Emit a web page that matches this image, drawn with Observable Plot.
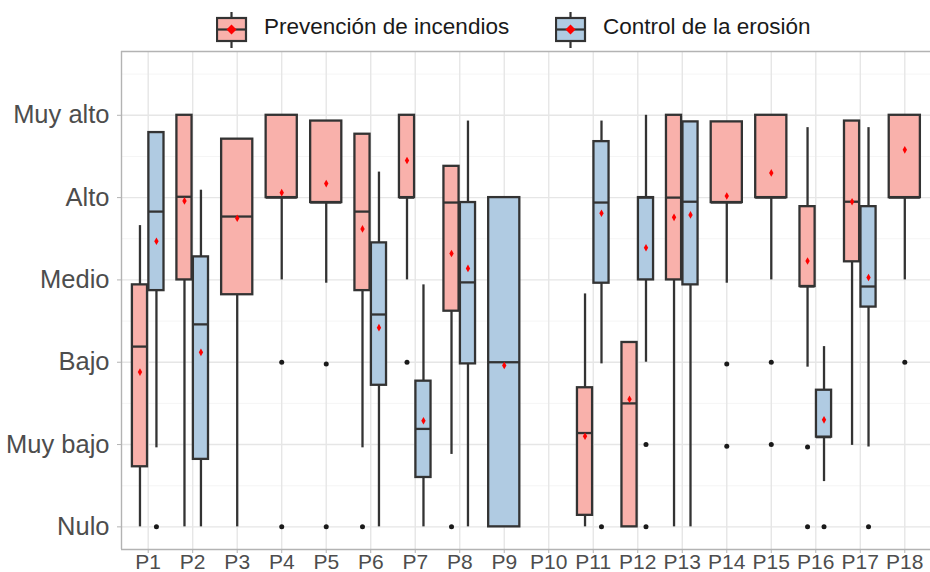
<!DOCTYPE html>
<html>
<head>
<meta charset="utf-8">
<script src="https://cdn.jsdelivr.net/npm/d3@7"></script>
<script src="https://cdn.jsdelivr.net/npm/@observablehq/plot@0.6"></script>
<style>
  html, body { margin: 0; padding: 0; background: #fff; }
  body { width: 930px; height: 572px; overflow: hidden; font-family: "Liberation Sans", Arial, sans-serif; }
  #legend { position: relative; width: 930px; height: 44px; }
  .key { position: absolute; top: 12px; }
  .lab { position: absolute; top: 14px; font-size: 22.5px; color: #1a1a1a; line-height: 26px; white-space: nowrap; }
</style>
</head>
<body>
<div id="legend"></div>
<div id="chart"></div>
<script>
// ---- Data ----
const parcelas = ["P1","P2","P3","P4","P5","P6","P7","P8","P9","P10","P11","P12","P13","P14","P15","P16","P17","P18"];
const niveles = ["Nulo","Muy bajo","Bajo","Medio","Alto","Muy alto"];
const grupos = ["Prevención de incendios","Control de la erosión"];

// Prevención de incendios
const incLo   = [0,    0,    0,    3,    2.96, 0.96, 3,    0.88, null, null, 0,    0,    0,    2.96, 3,    1.94, 0.99, 3];
const incQ1   = [0.73, 3,    2.82, 4,    3.94, 2.87, 4,    2.62, null, null, 0.14, 0,    3,    3.94, 4,    2.92, 3.22, 4];
const incMed  = [2.19, 4.01, 3.77, 4,    3.94, 3.83, 4,    3.94, null, null, 1.14, 1.5,  4,    3.94, 4,    2.92, 3.95, 4];
const incQ3   = [2.94, 5,    4.71, 5,    4.93, 4.77, 5,    4.38, null, null, 1.69, 2.24, 5,    4.92, 5,    3.89, 4.93, 5];
const incHi   = [3.66, 5,    4.71, 5,    4.93, 4.77, 5,    4.38, null, null, 2.83, 2.24, 5,    4.92, 5,    4.85, 4.93, 5];
const incMean = [1.88, 3.96, 3.75, 4.06, 4.17, 3.62, 4.45, 3.32, null, null, 1.10, 1.55, 3.76, 4.02, 4.30, 3.23, 3.95, 4.58];
const incOut  = [[], [], [], [2, 0], [1.98, 0], [0], [2], [0], [], [], [], [], [], [1.98, 0.98], [2, 1], [0.97, 0], [], [2]];

// Control de la erosión
const eroLo   = [0.96, 0,    null, null, null, 0,    0,    0,    0,    null, 1.98, 2,    0,    null, null, 0.55, 0.97, null];
const eroQ1   = [2.87, 0.82, null, null, null, 1.72, 0.60, 1.98, 0,    null, 2.96, 3,    2.94, null, null, 1.09, 2.67, null];
const eroMed  = [3.83, 2.46, null, null, null, 2.58, 1.19, 2.97, 2,    null, 3.94, 4,    3.95, null, null, 1.09, 2.92, null];
const eroQ3   = [4.79, 3.28, null, null, null, 3.45, 1.77, 3.94, 4,    null, 4.68, 4,    4.92, null, null, 1.66, 3.89, null];
const eroHi   = [4.79, 4.09, null, null, null, 4.31, 2.94, 4.93, 4,    null, 4.93, 5,    4.92, null, null, 2.19, 4.85, null];
const eroMean = [3.47, 2.12, null, null, null, 2.42, 1.29, 3.14, 1.96, null, 3.81, 3.39, 3.79, null, null, 1.30, 3.03, null];
const eroOut  = [[0], [], [], [], [], [], [], [], [], [], [0], [1, 0], [], [], [], [0], [0], []];

// ---- Build tables ----
const colores = {"Prevención de incendios": "#F9B1AB", "Control de la erosión": "#B0CBE2"};
const series = [
  {g: grupos[0], lo: incLo, q1: incQ1, med: incMed, q3: incQ3, hi: incHi, mean: incMean, out: incOut},
  {g: grupos[1], lo: eroLo, q1: eroQ1, med: eroMed, q3: eroQ3, hi: eroHi, mean: eroMean, out: eroOut}
];
const boxes = [];
const outliers = [];
parcelas.forEach((p, i) => {
  const present = series.filter(s => s.med[i] != null);
  present.forEach((s, k) => {
    const two = present.length === 2;
    const off = two ? (k === 0 ? -0.185 : 0.185) : 0;
    const half = two ? 0.17 : 0.35;
    const cx = i + 1 + off;
    boxes.push({g: s.g, cx, x1: cx - half, x2: cx + half,
      lo: s.lo[i], q1: s.q1[i], med: s.med[i], q3: s.q3[i], hi: s.hi[i], mean: s.mean[i]});
    s.out[i].forEach(v => outliers.push({cx, v}));
  });
});

const majors = [0, 1, 2, 3, 4, 5];
const minors = [0.5, 1.5, 2.5, 3.5, 4.5, 5.5];
const dark = "#333333";

const chart = Plot.plot({
  width: 930,
  height: 528,
  marginLeft: 121,
  marginRight: 0,
  marginTop: 7,
  marginBottom: 23,
  style: {fontFamily: "'Liberation Sans', Arial, sans-serif", background: "#fff"},
  x: {domain: [0.4, 18.6], range: [121, 931], axis: null},
  y: {domain: [-0.275, 5.775], axis: null},
  marks: [
    Plot.ruleY(minors, {stroke: "#F3F3F3", strokeWidth: 0.8}),
    Plot.ruleY(majors, {stroke: "#E6E6E6", strokeWidth: 1.4}),
    Plot.ruleX(d3.range(1, 19), {stroke: "#E6E6E6", strokeWidth: 1.4}),
    Plot.ruleX([0.4], {stroke: "#B3B3B3", strokeWidth: 1.4}),
    Plot.ruleY([-0.275, 5.775], {stroke: "#B3B3B3", strokeWidth: 1.4}),
    Plot.axisY({ticks: majors, tickFormat: d => niveles[d], tickSize: 4, tickPadding: 8,
      fontSize: 25.5, stroke: "#B3B3B3", fill: "#4D4D4D"}),
    Plot.axisX({ticks: d3.range(1, 19), tickFormat: d => parcelas[d - 1], tickSize: 4, tickPadding: 1,
      fontSize: 21, stroke: "#B3B3B3", fill: "#4D4D4D"}),
    // whiskers
    Plot.ruleX(boxes.filter(d => d.lo < d.q1), {x: "cx", y1: "lo", y2: "q1", stroke: dark, strokeWidth: 2.3}),
    Plot.ruleX(boxes.filter(d => d.hi > d.q3), {x: "cx", y1: "q3", y2: "hi", stroke: dark, strokeWidth: 2.3}),
    // boxes
    Plot.rect(boxes, {x1: "x1", x2: "x2", y1: "q1", y2: "q3", fill: d => colores[d.g], stroke: dark, strokeWidth: 2.3}),
    Plot.ruleY(boxes, {x1: "x1", x2: "x2", y: "med", stroke: dark, strokeWidth: 2.3}),
    // outliers
    Plot.dot(outliers, {x: "cx", y: "v", r: 2.5, fill: "#1a1a1a", stroke: null}),
    // means
    Plot.dot(boxes, {x: "cx", y: "mean", r: 2.3, symbol: "diamond", fill: "red", stroke: null})
  ]
});
document.getElementById("chart").appendChild(chart);

// ---- Legend ----
const legend = document.getElementById("legend");
const keyPos = [{k: 216, t: 264}, {k: 555, t: 603}];
grupos.forEach((g, i) => {
  const svg = `<svg class="key" width="32" height="36" style="left:${keyPos[i].k}px" xmlns="http://www.w3.org/2000/svg">
    <line x1="15.5" x2="15.5" y1="0" y2="36" stroke="${dark}" stroke-width="2.2"/>
    <rect x="1" y="6" width="29" height="23" fill="${colores[g]}" stroke="${dark}" stroke-width="2.2"/>
    <line x1="1" x2="30" y1="17.5" y2="17.5" stroke="${dark}" stroke-width="2.2"/>
    <path d="M15.5 12.5 L20.5 17.5 L15.5 22.5 L10.5 17.5 Z" fill="red"/>
  </svg>`;
  legend.insertAdjacentHTML("beforeend", svg + `<div class="lab" style="left:${keyPos[i].t}px">${g}</div>`);
});
</script>
</body>
</html>
